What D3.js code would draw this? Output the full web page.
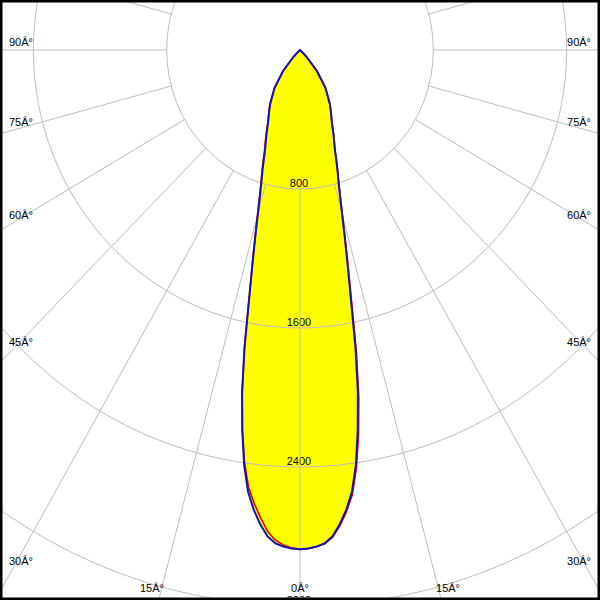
<!DOCTYPE html>
<html>
<head>
<meta charset="utf-8">
<script src="https://cdn.jsdelivr.net/npm/d3@7"></script>
<style>
html,body{margin:0;padding:0;background:#fff;}
svg{display:block;}
text{font-family:"Liberation Sans",Arial,sans-serif;font-size:11px;fill:#000;}
</style>
</head>
<body>
<div id="chart"></div>
<script>
// ---- data ----
const gammas = [0,1,2,3,4,5,6,7,8,9,10,11,12,13,14,15,16,17,18,19,20,22.5,25,27.5,30,35,40,45,50,55,60,65,70,75,80,85,90];
// C90-C270 plane (blue), symmetric
const c90 =  [2874,2870,2860,2843,2805,2740,2660,2560,2410,2215,2000,1745,1471,1270,1110,975,870,790,728,668,613,525,450,402,358,266,158,55,5,0,0,0,0,0,0,0,0];
// C0 plane (red, right side)
const c0 =   [2874,2870,2860,2845,2810,2748,2672,2578,2432,2245,2032,1775,1495,1290,1122,982,876,794,730,670,615,526,450,402,358,266,158,55,5,0,0,0,0,0,0,0,0];
// C180 plane (red, left side)
const c180 = [2874,2866,2850,2825,2778,2705,2625,2535,2395,2210,1998,1745,1475,1278,1120,988,884,802,740,680,624,535,455,405,360,266,158,55,5,0,0,0,0,0,0,0,0];
const ringValues = [800,1600,2400,3200];
const ringLabels = ["800","1600","2400","3200"];
const spokeAngles = d3.range(-180, 180, 15);
const labelAngles = [0,15,30,45,60,75,90];

// ---- layout ----
const W = 600, H = 600, cx = 300, cy = 50;
const sx = d3.scaleLinear().domain([0,800]).range([0,133.33]);
const sy = d3.scaleLinear().domain([0,800]).range([0,139]);
const rad = d => d*Math.PI/180;
function pt(a, I){ return [cx + sx(I)*Math.sin(rad(a)), cy + sy(I)*Math.cos(rad(a))]; }

const svg = d3.select("#chart").append("svg").attr("width",W).attr("height",H);
svg.append("rect").attr("width",W).attr("height",H).attr("fill","#fff");

function curvePoints(left, right){
  const pts = [];
  for (let i = gammas.length-1; i >= 0; i--) pts.push(pt(-gammas[i], left[i]));
  for (let i = 1; i < gammas.length; i++) pts.push(pt(gammas[i], right[i]));
  return pts;
}
const line = d3.line().curve(d3.curveLinear);

// fill
svg.append("path").attr("d", line(curvePoints(c90,c90)) + "Z")
  .attr("fill","#ffff00").attr("stroke","none");

// ring value labels (under the grid)
svg.selectAll("text.rv").data(ringValues).enter().append("text")
  .attr("class","rv").attr("x",cx-1).attr("y",d=>cy+sy(d)-2.5)
  .attr("text-anchor","middle").text((d,i)=>ringLabels[i]);

// grid
const grid = svg.append("g").attr("stroke","#bdbdbd").attr("stroke-width",1).attr("fill","none");
grid.selectAll("ellipse").data(ringValues).enter().append("ellipse")
  .attr("cx",cx).attr("cy",cy).attr("rx",d=>sx(d)).attr("ry",d=>sy(d));
grid.selectAll("line").data(spokeAngles).enter().append("line")
  .attr("x1",d=>pt(d,800)[0]).attr("y1",d=>pt(d,800)[1])
  .attr("x2",d=>pt(d,8000)[0]).attr("y2",d=>pt(d,8000)[1]);

// curves
svg.append("path").attr("d", line(curvePoints(c180,c0)) + "Z")
  .attr("fill","none").attr("stroke","#e00000").attr("stroke-width",1.6).attr("stroke-linejoin","round");
svg.append("path").attr("d", line(curvePoints(c90,c90)) + "Z")
  .attr("fill","none").attr("stroke","#1414b4").attr("stroke-width",2).attr("stroke-linejoin","round");

// angle labels
const deg = "\u00C2\u00B0";
labelAngles.forEach(a => {
  const sides = a === 0 ? [0] : [-1,1];
  sides.forEach(s => {
    const dx = s*sx(1)*Math.sin(rad(a)), dy = sy(1)*Math.cos(rad(a));
    let x, y, anchor;
    if (s !== 0) {
      const t = 287.5/Math.abs(dx);
      const yy = cy + t*dy;
      if (yy < 585) {
        x = s < 0 ? 9 : 591; y = yy - 4; anchor = s < 0 ? "start" : "end";
      } else {
        const t2 = (593-cy)/dy;
        const xx = cx + t2*dx;
        x = s < 0 ? xx+3.5 : xx-3.5; y = 592; anchor = s < 0 ? "end" : "start";
      }
    } else { x = cx; y = 592; anchor = "middle"; }
    svg.append("text").attr("x",x).attr("y",y).attr("text-anchor",anchor).text(a + deg);
  });
});

// frame
svg.append("rect").attr("x",1.25).attr("y",1.25).attr("width",W-2.5).attr("height",H-2.5)
  .attr("fill","none").attr("stroke","#000").attr("stroke-width",2.5);
</script>
</body>
</html>
